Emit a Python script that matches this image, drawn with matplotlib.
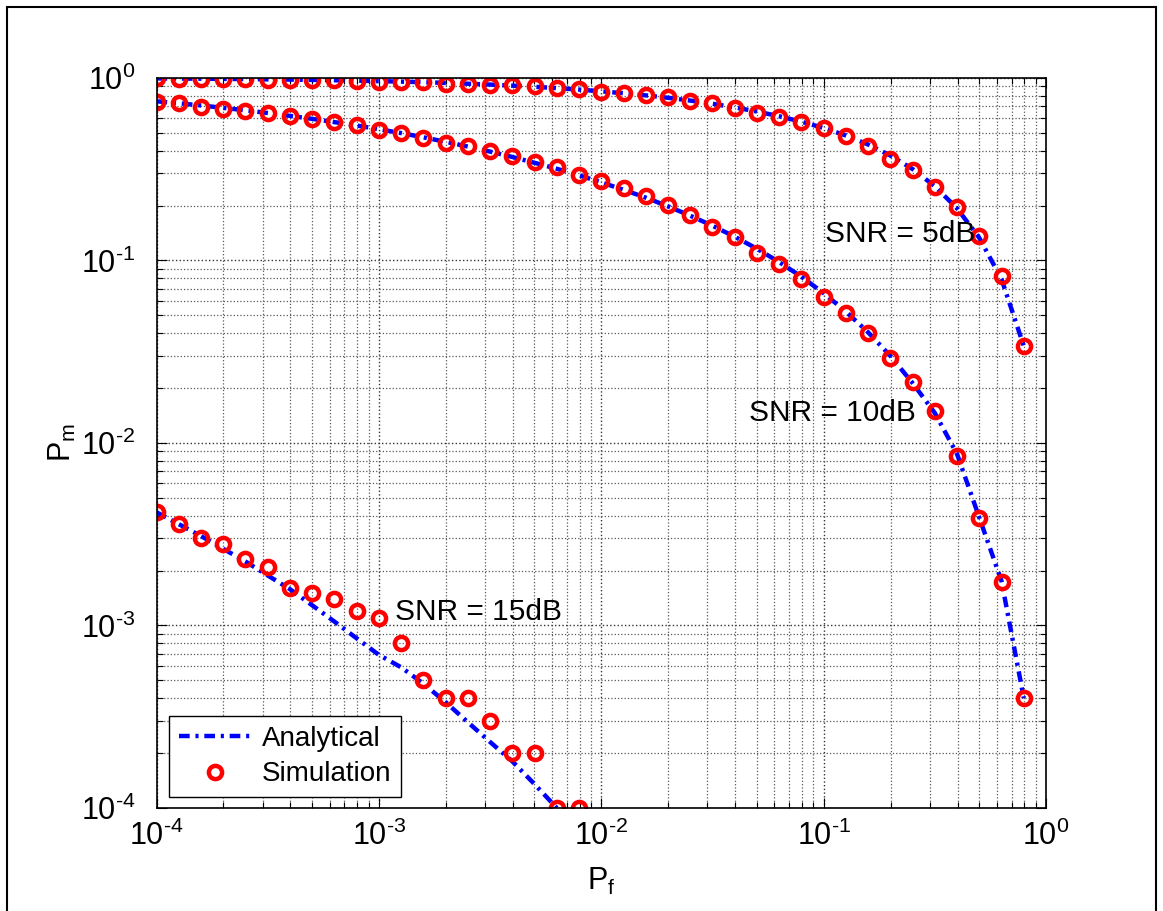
import numpy as np
import matplotlib
matplotlib.use("Agg")
import matplotlib.pyplot as plt
from matplotlib.patches import Rectangle
from matplotlib.ticker import LogLocator, NullFormatter, FuncFormatter

plt.rcParams['font.family'] = ['Liberation Sans', 'DejaVu Sans']
plt.rcParams['mathtext.fontset'] = 'custom'
plt.rcParams['mathtext.rm'] = 'Liberation Sans'
plt.rcParams['mathtext.it'] = 'Liberation Sans'
plt.rcParams['mathtext.default'] = 'regular'

# false alarm probability, 0.1 decade steps from 1e-4
pf = 10 ** (-4 + 0.1 * np.arange(40))

# SNR = 5 dB
sim_5 = [0.996, 0.987, 0.987, 0.991, 0.984, 0.975, 0.971, 0.971, 0.971, 0.966,
         0.947, 0.954, 0.951, 0.931, 0.931, 0.918, 0.915, 0.904, 0.885, 0.867,
         0.841, 0.831, 0.804, 0.790, 0.751, 0.730, 0.685, 0.646, 0.614, 0.577,
         0.530, 0.481, 0.426, 0.362, 0.313, 0.252, 0.196, 0.137, 0.0822, 0.0341]
ana_5 = [0.995, 0.993, 0.991, 0.989, 0.986, 0.983, 0.980, 0.976, 0.972, 0.967,
         0.961, 0.955, 0.948, 0.940, 0.930, 0.920, 0.908, 0.895, 0.880, 0.864,
         0.845, 0.825, 0.803, 0.779, 0.752, 0.722, 0.690, 0.655, 0.617, 0.576,
         0.532, 0.484, 0.432, 0.376, 0.317, 0.255, 0.193, 0.133, 0.079, 0.034]

# SNR = 10 dB
sim_10 = [0.741, 0.727, 0.697, 0.679, 0.657, 0.643, 0.619, 0.596, 0.572, 0.550,
          0.519, 0.498, 0.469, 0.442, 0.424, 0.397, 0.374, 0.346, 0.326, 0.294,
          0.273, 0.248, 0.225, 0.201, 0.177, 0.153, 0.1345, 0.110, 0.096, 0.0789,
          0.0633, 0.0514, 0.0399, 0.0291, 0.0217, 0.0149, 0.00845, 0.00386, 0.00174, 0.000402]
ana_10 = [0.745, 0.727, 0.707, 0.686, 0.665, 0.643, 0.620, 0.597, 0.573, 0.549,
          0.524, 0.499, 0.473, 0.447, 0.421, 0.395, 0.369, 0.343, 0.318, 0.293,
          0.268, 0.244, 0.221, 0.198, 0.176, 0.155, 0.135, 0.116, 0.098, 0.0815,
          0.0662, 0.0525, 0.0404, 0.0300, 0.0213, 0.0146, 0.0087, 0.0039, 0.00175, 0.0004]

# SNR = 15 dB (first 20 Pf values, zeros beyond are off the log axis)
sim_15 = [0.0042, 0.0036, 0.0030, 0.0028, 0.0023, 0.0021, 0.0016, 0.0015, 0.0014, 0.0012,
          0.0011, 0.0008, 0.0005, 0.0004, 0.0004, 0.0003, 0.0002, 0.0002, 0.0001, 0.0001]
ana_15 = [4.17e-3, 3.59e-3, 3.09e-3, 2.63e-3, 2.24e-3, 1.88e-3, 1.58e-3, 1.29e-3, 1.05e-3, 8.5e-4,
          6.9e-4, 5.9e-4, 4.8e-4, 3.8e-4, 2.95e-4, 2.3e-4, 1.8e-4, 1.35e-4, 1.0e-4]


def pow10(v, pos):
    e = int(round(np.log10(v)))
    if e < 0:
        return r'$10^{\text{-}%d}$' % (-e)
    return r'$10^{%d}$' % e


fig = plt.figure(figsize=(11.63, 9.11), dpi=100)
ax = fig.add_axes([0.1346, 0.1131, 0.7648, 0.8013])

line_kw = dict(color='blue', linestyle='-.', linewidth=3.2, dashes=(2.4, 1.3, 0.7, 1.3))
mark_kw = dict(linestyle='none', marker='o', markersize=9.5, markeredgewidth=3.2,
               markeredgecolor='red', markerfacecolor='none')

ax.loglog(pf, ana_5, **line_kw, label='Analytical')
ax.loglog(pf, sim_5, **mark_kw, label='Simulation')
ax.loglog(pf, ana_10, **line_kw)
ax.loglog(pf, sim_10, **mark_kw)
ax.loglog(pf[:len(ana_15)], ana_15, **line_kw)
ax.loglog(pf[:len(sim_15)], sim_15, **mark_kw)

ax.set_xlim(1e-4, 1)
ax.set_ylim(1e-4, 1)

ax.xaxis.set_major_locator(LogLocator(base=10, numticks=10))
ax.yaxis.set_major_locator(LogLocator(base=10, numticks=10))
ax.xaxis.set_minor_locator(LogLocator(base=10, subs=np.arange(2, 10), numticks=20))
ax.yaxis.set_minor_locator(LogLocator(base=10, subs=np.arange(2, 10), numticks=20))
ax.xaxis.set_major_formatter(FuncFormatter(pow10))
ax.yaxis.set_major_formatter(FuncFormatter(pow10))
ax.xaxis.set_minor_formatter(NullFormatter())
ax.yaxis.set_minor_formatter(NullFormatter())

ax.grid(True, which='major', linestyle=':', color='0.2', linewidth=1.0)
ax.grid(True, which='minor', linestyle=':', color='0.35', linewidth=0.9)

ax.tick_params(which='both', direction='in', top=True, right=True, labelsize=22, width=0.8)
ax.tick_params(which='major', length=7)
ax.tick_params(axis='x', which='major', pad=9)
ax.tick_params(axis='y', which='major', pad=15)
ax.tick_params(which='minor', length=4)
for s in ax.spines.values():
    s.set_linewidth(1.2)

ax.set_xlabel('P$_f$', fontsize=22, labelpad=10)
ax.set_ylabel('P$_m$', fontsize=22, labelpad=2)

ax.text(0.101, 0.14, 'SNR = 5dB', fontsize=21.5, va='center', ha='left')
ax.text(0.046, 0.0146, 'SNR = 10dB', fontsize=21.5, va='center', ha='left')
ax.text(1.18e-3, 1.19e-3, 'SNR = 15dB', fontsize=21.5, va='center', ha='left')

leg = ax.legend(loc='lower left', bbox_to_anchor=(0.014, 0.015), borderaxespad=0,
                fontsize=20, fancybox=False, framealpha=1, edgecolor='black',
                handlelength=2.6, labelspacing=0.35, borderpad=0.35, handletextpad=0.4)
leg.get_frame().set_linewidth(1.0)

fig.patches.append(Rectangle((0.006, -0.1), 0.988, 1.092, transform=fig.transFigure,
                             fill=False, edgecolor='black', linewidth=1.5))

fig.savefig('out.png', dpi=100)
